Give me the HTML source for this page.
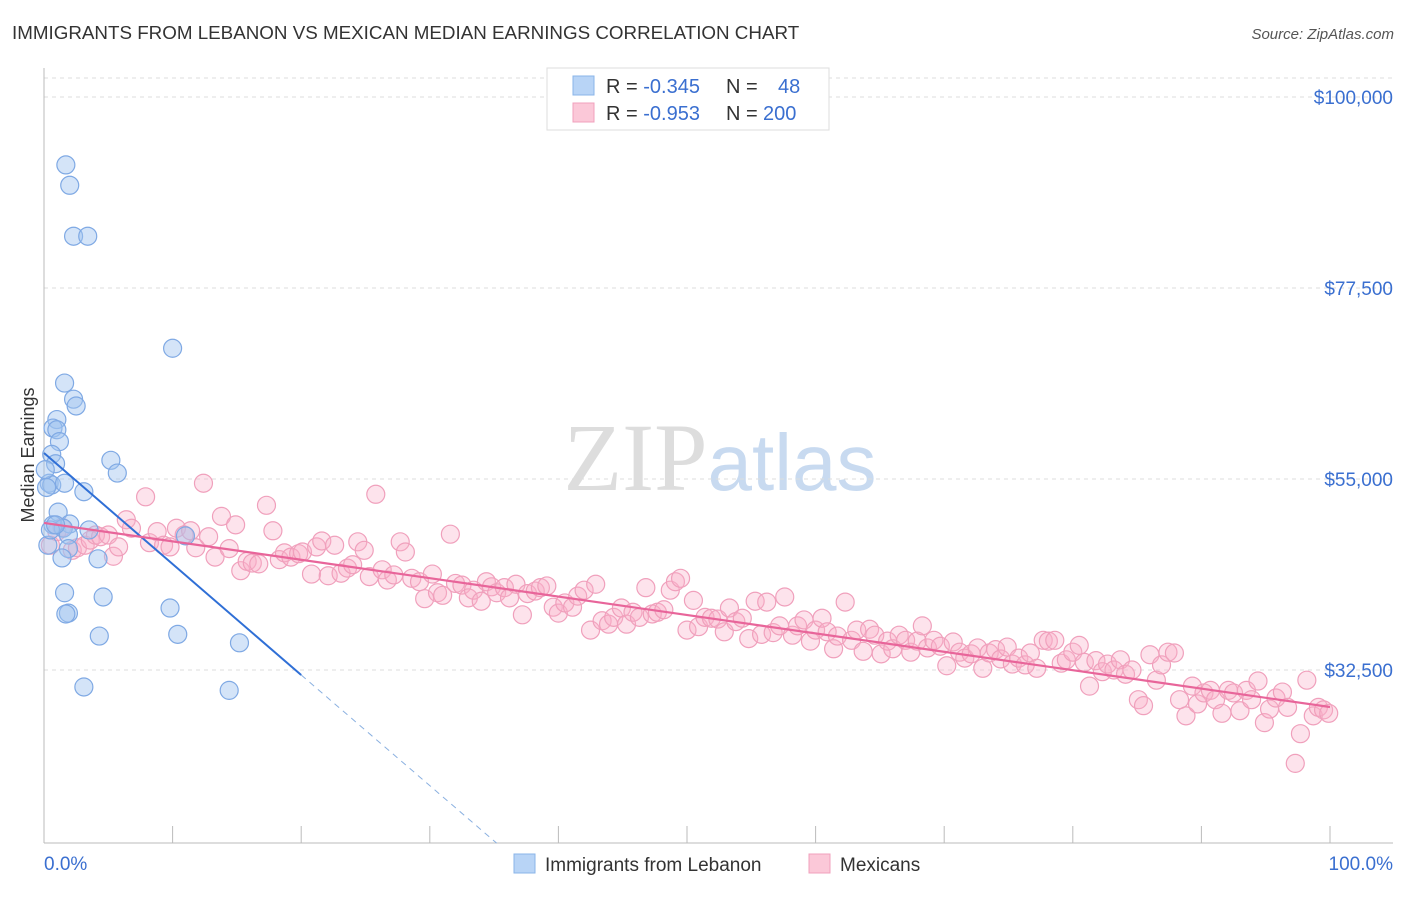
<!DOCTYPE html>
<html><head><meta charset="utf-8"><style>
body{margin:0;background:#fff;font-family:"Liberation Sans",sans-serif;}
svg text{font-family:"Liberation Sans",sans-serif;}
</style></head><body>
<svg id="chart" width="1406" height="892" viewBox="0 0 1406 892">
<text x="12" y="39" font-size="18.8" fill="#333">IMMIGRANTS FROM LEBANON VS MEXICAN MEDIAN EARNINGS CORRELATION CHART</text>
<text x="1394" y="39" font-size="15" fill="#555" text-anchor="end" font-style="italic">Source: ZipAtlas.com</text>
<text x="720" y="490" font-size="96" text-anchor="middle"><tspan fill="#ddd" font-family="Liberation Serif">ZIP</tspan><tspan fill="#c8daf0" font-size="80">atlas</tspan></text>
<g id="grid"></g>
<g id="axes"></g>
<g id="pink"></g>
<g id="blue"></g>
<g id="trends"></g>
<text transform="translate(34,455) rotate(-90)" font-size="18" fill="#333" text-anchor="middle">Median Earnings</text>
<g>
<rect x="547" y="68" width="282" height="62" fill="#fff" stroke="#ddd"/>
<rect x="573" y="76" width="21" height="19" fill="#b8d4f6" stroke="#8ab4e8"/>
<rect x="573" y="103" width="21" height="19" fill="#fbc8d8" stroke="#f0a0bc"/>
<text x="606" y="93" font-size="20" fill="#333">R = <tspan fill="#3a6fd0">-0.345</tspan><tspan x="726">N = </tspan><tspan x="778" fill="#3a6fd0">48</tspan></text>
<text x="606" y="120" font-size="20" fill="#333">R = <tspan fill="#3a6fd0">-0.953</tspan><tspan x="726">N = </tspan><tspan x="763" fill="#3a6fd0">200</tspan></text>
</g>
<g>
<rect x="514" y="854" width="21" height="19" fill="#b8d4f6" stroke="#8ab4e8"/>
<text x="545" y="871" font-size="19" fill="#333">Immigrants from Lebanon</text>
<rect x="809" y="854" width="21" height="19" fill="#fbc8d8" stroke="#f0a0bc"/>
<text x="840" y="871" font-size="19" fill="#333">Mexicans</text>
</g>
</svg>
<script>
const yTicks=[100000,77500,55000,32500];
const yTickLabels=["$100,000","$77,500","$55,000","$32,500"];
const xTickLabels=["0.0%","100.0%"];
const blueX=[1.7,2.0,2.3,3.4,10.0,1.6,2.3,2.5,1.0,0.7,1.0,1.2,0.6,0.9,5.2,5.7,0.4,0.6,1.6,3.1,1.1,0.7,2.0,3.5,1.5,1.9,11.0,1.9,4.2,1.4,1.6,4.6,1.9,1.7,9.8,4.3,10.4,15.2,3.1,14.4,0.3,0.5,0.2,0.9,0.1];
const blueY=[92.0,89.6,83.6,83.6,70.4,66.3,64.4,63.6,62.0,61.0,60.8,59.4,57.9,56.8,57.2,55.7,54.5,54.3,54.5,53.5,51.1,49.6,49.7,49.0,49.2,48.4,48.3,46.8,45.6,45.7,41.6,41.1,39.2,39.1,39.8,36.5,36.7,35.7,30.5,30.1,47.2,49.0,54.0,49.6,56.1];
const pinkX=[0.5,1.0,1.4,2.2,2.6,3.2,3.6,4.0,4.4,5.0,5.4,5.8,6.4,6.8,7.9,8.2,8.8,9.3,9.8,10.3,10.9,11.4,11.8,12.4,12.8,13.3,13.8,14.4,14.9,15.3,15.8,16.2,16.7,17.3,17.8,18.3,18.7,19.2,19.8,20.1,20.8,21.2,21.6,22.1,22.6,23.1,23.6,24.0,24.4,24.9,25.3,25.8,26.3,26.7,27.2,27.7,28.1,28.6,29.2,29.6,30.2,30.6,31.0,31.6,32.0,32.5,33.0,33.4,34.0,34.4,34.8,35.2,35.8,36.2,36.7,37.2,37.6,38.2,38.6,39.1,39.6,40.0,40.5,41.1,41.5,42.0,42.5,42.9,43.4,43.9,44.3,44.9,45.3,45.8,46.3,46.8,47.3,47.7,48.2,48.7,49.1,49.5,50.0,50.5,50.9,51.4,51.9,52.4,52.9,53.3,53.8,54.3,54.8,55.3,55.8,56.2,56.7,57.2,57.6,58.2,58.6,59.1,59.6,60.0,60.5,60.9,61.4,61.7,62.3,62.8,63.2,63.7,64.2,64.6,65.1,65.6,66.0,66.5,67.0,67.4,67.9,68.3,68.7,69.2,69.7,70.2,70.7,71.2,71.6,72.1,72.6,73.0,73.5,74.0,74.4,74.9,75.3,75.8,76.3,76.7,77.2,77.7,78.1,78.6,79.1,79.5,80.0,80.5,80.9,81.3,81.8,82.3,82.7,83.2,83.7,84.1,84.6,85.1,85.5,86.0,86.5,86.9,87.4,87.9,88.3,88.8,89.3,89.7,90.2,90.7,91.1,91.6,92.1,92.5,93.0,93.5,93.9,94.4,94.9,95.3,95.8,96.3,96.7,97.3,97.7,98.2,98.7,99.1,99.5,99.9];
const pinkY=[47.2,48.8,49.3,46.6,46.9,47.2,47.8,48.4,48.2,48.4,45.9,47.0,50.2,49.2,52.9,47.5,48.8,47.2,47.0,49.2,48.4,48.9,46.9,54.5,48.2,45.8,50.6,46.8,49.6,44.2,45.3,45.1,45.0,51.9,48.9,45.5,46.3,45.8,46.2,46.4,43.8,47.0,47.7,43.6,47.2,43.9,44.5,44.9,47.6,46.6,43.5,53.2,44.3,43.1,43.7,47.6,46.4,43.3,42.9,40.9,43.8,41.6,41.3,48.5,42.7,42.5,41.0,41.9,40.6,42.9,42.3,41.6,42.2,41.0,42.6,39.0,41.5,41.8,42.2,42.4,39.9,39.2,40.4,39.9,41.2,41.9,37.2,42.6,38.3,37.9,38.7,39.8,37.9,39.3,38.7,42.2,39.1,39.3,39.6,41.9,42.9,43.3,37.2,40.7,37.6,38.7,38.6,38.5,37.0,39.8,38.2,38.6,36.2,40.6,36.7,40.5,36.9,37.7,41.1,36.6,37.7,38.4,35.9,37.2,38.6,37.0,35.0,36.5,40.5,36.0,37.2,34.7,37.3,36.6,34.4,35.9,35.0,36.6,36.0,34.6,35.9,37.7,35.1,36.0,35.3,33.0,35.8,34.6,33.9,34.4,35.1,32.7,34.5,34.9,33.8,35.2,33.2,33.9,33.1,34.5,32.7,36.0,35.9,36.0,33.3,33.7,34.6,35.4,33.4,30.6,33.6,32.3,33.2,32.5,33.7,32.0,32.5,29.0,28.3,34.3,31.3,33.1,34.6,34.5,29.0,27.1,30.6,28.5,29.8,30.1,29.0,27.4,30.1,29.8,27.7,30.1,29.0,31.2,26.3,27.9,29.2,29.9,28.1,21.5,25.0,31.3,27.1,28.1,27.8,27.4];
const blueTrend=[[0,58.06],[20,31.91]];
const blueTrendDash=[[20,31.91],[35.2,12.1]];
const pinkTrend=[[0,49.82],[100,28.14]];
const NS='http://www.w3.org/2000/svg';
const xs=p=>44+p*12.86;
const ys=v=>97+(100-v)/22.5*191;
function mk(tag,attrs,parent){const e=document.createElementNS(NS,tag);for(const k in attrs)e.setAttribute(k,attrs[k]);document.getElementById(parent).appendChild(e);return e;}
const grid='grid';
mk('line',{x1:44,x2:1393,y1:78,y2:78,stroke:'#ddd','stroke-dasharray':'4,4'},grid);
yTicks.forEach((t,i)=>{
 const y=ys(t/1000);
 const l=mk('line',{x1:44,x2:1393,y1:y,y2:y,stroke:'#ddd','stroke-dasharray':'4,4'},grid);
 
 
 const tx=mk('text',{x:1393,y:y+7,'font-size':19,fill:'#3a6fd0','text-anchor':'end'},grid);
 tx.textContent=yTickLabels[i];
 
 
});
mk('line',{x1:44,x2:44,y1:68,y2:843,stroke:'#bbb'},'axes');
mk('line',{x1:44,x2:1393,y1:843,y2:843,stroke:'#bbb'},'axes');
for(let i=0;i<=10;i++){const x=xs(i*10);mk('line',{x1:x,x2:x,y1:826,y2:843,stroke:'#bbb'},'axes');}
const xl0=mk('text',{x:44,y:870,'font-size':19,fill:'#3a6fd0'},'axes');xl0.textContent=xTickLabels[0];


const xl1=mk('text',{x:1393,y:870,'font-size':19,fill:'#3a6fd0','text-anchor':'end'},'axes');xl1.textContent=xTickLabels[1];


pinkX.forEach((x,i)=>{const c=mk('circle',{cx:xs(x),cy:ys(pinkY[i]),r:9,fill:'rgba(248,175,200,0.35)',stroke:'#f0a0bc','stroke-width':1.2},'pink');
 
 });
blueX.forEach((x,i)=>{const c=mk('circle',{cx:xs(x),cy:ys(blueY[i]),r:9,fill:'rgba(160,196,240,0.45)',stroke:'#7fa9e4','stroke-width':1.2},'blue');
 
 });
const tl=(d,col,dash,w)=>{const l=mk('line',{x1:xs(d[0][0]),y1:ys(d[0][1]),x2:xs(d[1][0]),y2:ys(d[1][1]),stroke:col,'stroke-width':w},'trends');if(dash)l.setAttribute('stroke-dasharray',dash);return l;};
const t1=tl(blueTrend,'#2f6fd6',null,2);


const t2=tl(blueTrendDash,'#8ab0e0','6,5',1);


const t3=tl(pinkTrend,'#e8659a',null,2.2);


</script>
</body></html>
